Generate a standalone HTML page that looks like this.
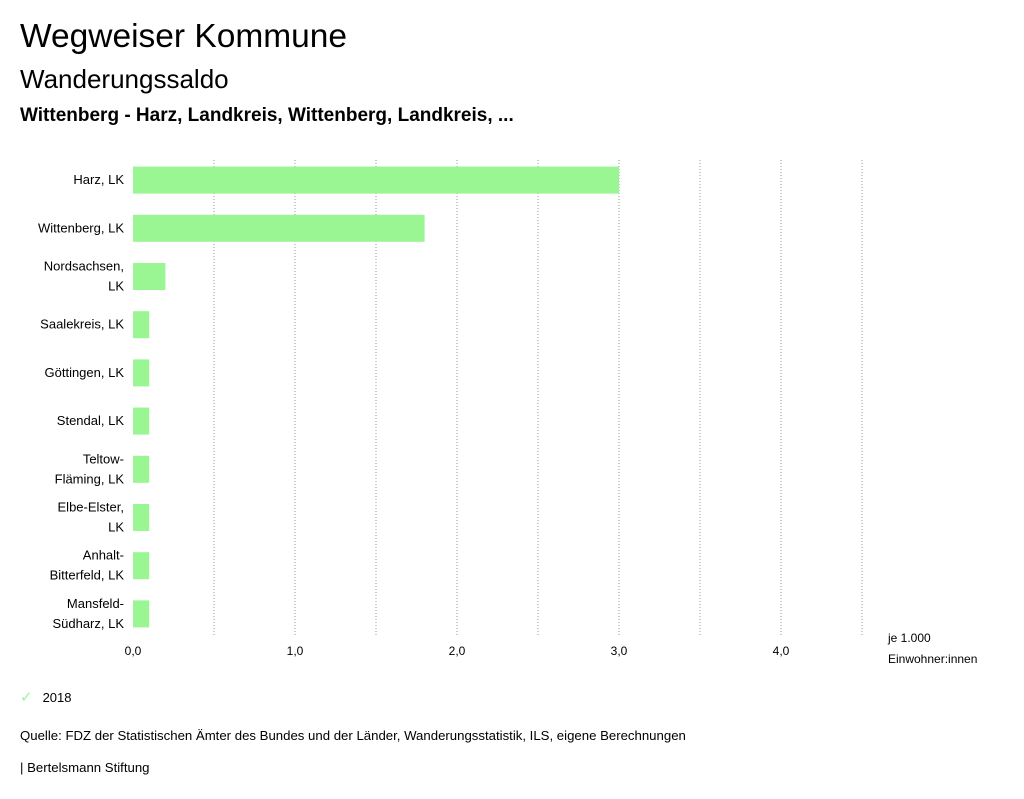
<!DOCTYPE html>
<html><head><meta charset="utf-8"><style>
body{margin:0;width:1024px;height:799px;background:#fff;font-family:"Liberation Sans",sans-serif;color:#000;overflow:hidden;position:relative}
.t{position:absolute;white-space:nowrap}
</style></head><body>
<div class="t" style="left:20px;top:18px;font-size:33.5px">Wegweiser Kommune</div>
<div class="t" style="left:20px;top:64px;font-size:26px">Wanderungssaldo</div>
<div class="t" style="left:20px;top:105px;font-size:19px;font-weight:bold">Wittenberg - Harz, Landkreis, Wittenberg, Landkreis, ...</div>
<svg id="chart" width="1024" height="799" style="position:absolute;left:0;top:0"></svg>
<div class="t" style="left:20px;top:688px;font-size:13px"><span style="color:#9af593;font-size:15px;margin-right:10px">✓</span>2018</div>
<div class="t" style="left:20px;top:728px;font-size:13.2px">Quelle: FDZ der Statistischen Ämter des Bundes und der Länder, Wanderungsstatistik, ILS, eigene Berechnungen</div>
<div class="t" style="left:20px;top:760px;font-size:13.2px">| Bertelsmann Stiftung</div>
<script>
const categories=[["Harz, LK"],["Wittenberg, LK"],["Nordsachsen,","LK"],["Saalekreis, LK"],["Göttingen, LK"],["Stendal, LK"],["Teltow-","Fläming, LK"],["Elbe-Elster,","LK"],["Anhalt-","Bitterfeld, LK"],["Mansfeld-","Südharz, LK"]];
const values=[3.0,1.8,0.2,0.1,0.1,0.1,0.1,0.1,0.1,0.1];
const tickValues=[0,1,2,3,4];
const tickLabels=["0,0","1,0","2,0","3,0","4,0"];
const gridValues=[0.5,1,1.5,2,2.5,3,3.5,4,4.5];
const svg=document.getElementById('chart');const NS='http://www.w3.org/2000/svg';
const x0=133,ppu=162,plotTop=156,band=48.2,barH=27;
const X=v=>x0+v*ppu;const Y=i=>plotTop+band*(i+0.5);
function mk(t,a){const e=document.createElementNS(NS,t);for(const k in a)e.setAttribute(k,a[k]);svg.appendChild(e);return e;}
gridValues.forEach(v=>{const l=mk('line',{x1:X(v),x2:X(v),y1:160,y2:636,stroke:'#999','stroke-width':1,'stroke-dasharray':'1,2'});

});
values.forEach((v,i)=>{const r=mk('rect',{x:x0,y:Y(i)-barH/2,width:X(v)-x0,height:barH,fill:'#9af593'});


const lines=categories[i];lines.forEach((s,j)=>{const t=mk('text',{x:124,y:Y(i)+4+(j-(lines.length-1)/2)*20,'text-anchor':'end','font-size':13,'font-family':'Liberation Sans, sans-serif'});t.textContent=s;

});});
tickValues.forEach((v,i)=>{const t=mk('text',{x:X(v),y:655,'text-anchor':'middle','font-size':12,'font-family':'Liberation Sans, sans-serif'});t.textContent=tickLabels[i];

});
[["je 1.000",642],["Einwohner:innen",663]].forEach(([s,y])=>{const t=mk('text',{x:888,y:y,'font-size':12,'font-family':'Liberation Sans, sans-serif'});t.textContent=s;

});
</script>
</body></html>
